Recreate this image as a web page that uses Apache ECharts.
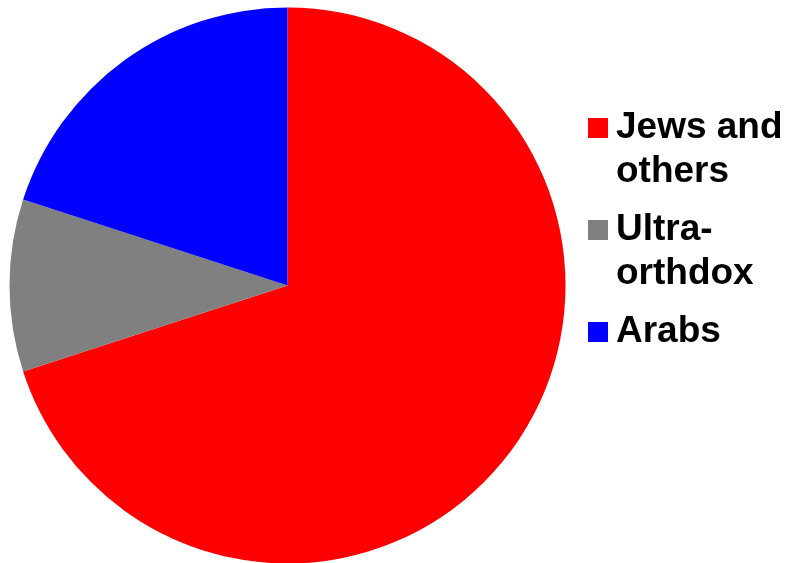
<!DOCTYPE html>
<html>
<head>
<meta charset="utf-8">
<style>
  html, body { margin: 0; padding: 0; background: #fff; }
  #chart { width: 786px; height: 563px; }
</style>
<script src="https://cdn.jsdelivr.net/npm/echarts@6/dist/echarts.min.js"></script>
</head>
<body>
<div id="chart"></div>
<script>
// Population shares (percent)
const categories = ['Jews and others', 'Ultra-orthdox', 'Arabs'];
const shares = [70, 10, 20];
const sliceColors = ['#ff0000', '#808080', '#0000ff'];
// Legend text, wrapped onto two lines each
const legendLabels = {
  'Jews and others': 'Jews and\nothers',
  'Ultra-orthdox': 'Ultra-\northdox',
  'Arabs': 'Arabs\n '
};

// Square legend marker sitting beside the first text line of a two-line item
const markerIcon = 'path://M0,0L0.01,0M0,12h20v20h-20zM23,88L22.99,88';

const chart = echarts.init(document.getElementById('chart'), null, { renderer: 'canvas' });

chart.setOption({
  animation: false,
  backgroundColor: '#ffffff',
  legend: {
    orient: 'vertical',
    left: 588,
    top: 106,
    padding: 0,
    itemGap: 14,
    itemWidth: 23,
    itemHeight: 88,
    icon: markerIcon,
    formatter: name => legendLabels[name] || name,
    textStyle: {
      color: '#000000',
      fontFamily: 'Liberation Sans, Arial, sans-serif',
      fontWeight: 'bold',
      fontSize: 37,
      lineHeight: 44
    },
    data: categories
  },
  series: [{
    type: 'pie',
    center: [287.5, 285.5],
    radius: 278,
    startAngle: 90,
    clockwise: true,
    label: { show: false },
    labelLine: { show: false },
    emphasis: { disabled: true },
    itemStyle: { borderWidth: 0 },
    data: categories.map((name, i) => ({
      name,
      value: shares[i],
      itemStyle: { color: sliceColors[i] }
    }))
  }]
});
</script>
</body>
</html>
